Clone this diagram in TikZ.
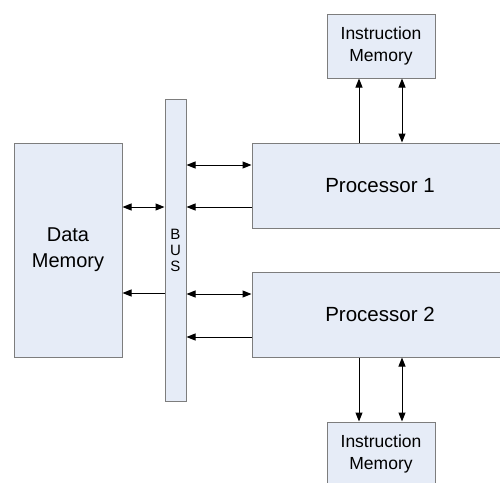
\documentclass[tikz,border=0pt]{standalone}
\usepackage{fontspec}
\setmainfont{Liberation Sans}
\usetikzlibrary{arrows.meta}
\definecolor{boxfill}{RGB}{230,236,247}
\definecolor{boxline}{RGB}{125,125,125}
\tikzset{
  unit/.style={draw=boxline, fill=boxfill, line width=1pt, inner sep=0pt, align=center},
  link/.style={line width=1pt, black},
  tip/.tip={Triangle[length=9pt,width=7pt]},
  one/.style={link, -tip},
  both/.style={link, tip-tip},
}
\begin{document}
\begin{tikzpicture}[x=1pt,y=-1pt]
  \clip (0,0) rectangle (500,482);
  \fill[white] (0,0) rectangle (500,482);

  % memory, bus and processor blocks
  \node[unit, minimum width=108pt, minimum height=214pt, font=\fontsize{20}{26}\selectfont] (dm) at (68,250) {Data\\Memory};
  \node[unit, minimum width=21pt, minimum height=302pt, font=\fontsize{15}{16}\selectfont] (bus) at (175.5,250) {B\\U\\S};
  \node[unit, minimum width=256pt, minimum height=85pt, font=\fontsize{20.5}{24}\selectfont] (p1) at (380,185.5) {Processor 1};
  \node[unit, minimum width=256pt, minimum height=85pt, font=\fontsize{20.5}{24}\selectfont] (p2) at (380,314.5) {Processor 2};
  \node[unit, minimum width=108pt, minimum height=64pt, font=\fontsize{17.5}{22}\selectfont] (im1) at (381,46) {Instruction\\Memory};
  \node[unit, minimum width=108pt, minimum height=64pt, font=\fontsize{17.5}{22}\selectfont] (im2) at (381,454) {Instruction\\Memory};

  % data memory <-> bus
  \draw[both] (bus.west |- 0,207) -- (dm.east |- 0,207);
  \draw[one]  (bus.west |- 0,293) -- (dm.east |- 0,293);

  % processors <-> bus
  \draw[both] (p1.west |- 0,165) -- (bus.east |- 0,165);
  \draw[one]  (p1.west |- 0,207) -- (bus.east |- 0,207);
  \draw[both] (p2.west |- 0,294) -- (bus.east |- 0,294);
  \draw[one]  (p2.west |- 0,337) -- (bus.east |- 0,337);

  % processors <-> instruction memories
  \draw[one]  (p1.north -| 359,0) -- (im1.south -| 359,0);
  \draw[both] (p1.north -| 402,0) -- (im1.south -| 402,0);
  \draw[one]  (p2.south -| 359,0) -- (im2.north -| 359,0);
  \draw[both] (p2.south -| 402,0) -- (im2.north -| 402,0);
\end{tikzpicture}
\end{document}
